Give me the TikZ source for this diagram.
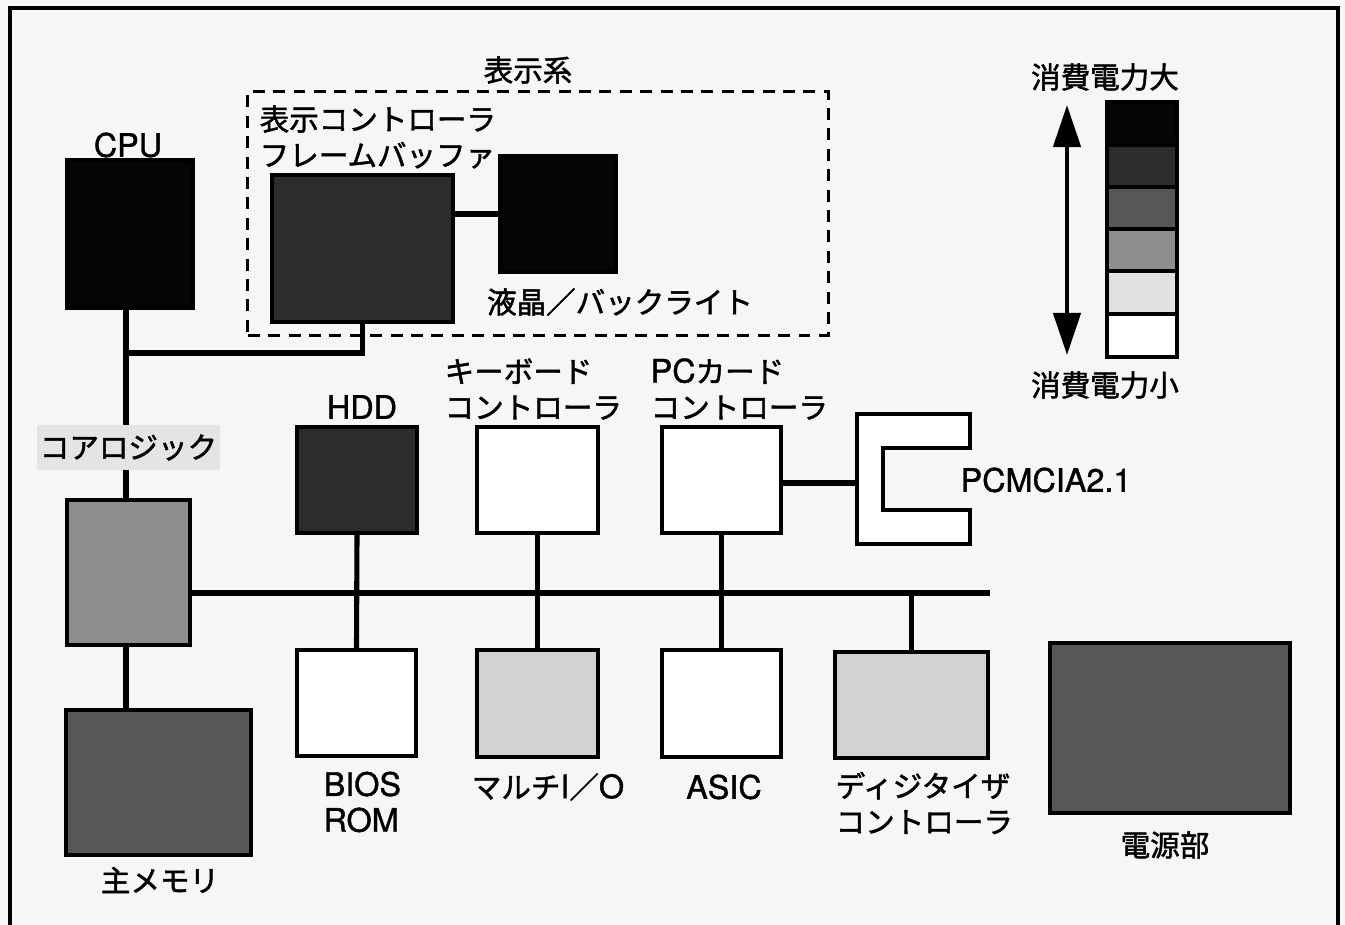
\documentclass[tikz,border=0pt]{standalone}
\usepackage{fontspec}
\setmainfont{Noto Sans CJK JP}[FakeBold=1.6]
\newfontfamily\latfont{TeX Gyre Heros}[FakeBold=1.2]
\newcommand{\lat}[1]{{\latfont\fontsize{9.2}{10.2}\selectfont #1}}
\usetikzlibrary{arrows.meta,calc}
\definecolor{paper}{HTML}{F6F6F6}
\definecolor{cBlack}{HTML}{050505}
\definecolor{cDark}{HTML}{2C2C2C}
\definecolor{cMid}{HTML}{575757}
\definecolor{cGray}{HTML}{8E8E8E}
\definecolor{cLight}{HTML}{D2D2D2}
\definecolor{cPale}{HTML}{E0E0E0}
\definecolor{cLabel}{HTML}{E4E4E4}
\tikzset{
  blk/.style={draw=black, line width=0.9pt, inner sep=0pt, rectangle},
  wire/.style={line width=1.45pt, black},
  txt/.style={inner sep=0pt, font=\fontsize{8.4}{10.2}\selectfont, text=black},
  ltxt/.style={txt, align=left, anchor=west},
}
\newcommand{\pbox}[6]{% name, x1,y1,x2,y2, fill
  \node[blk, fill=#6, minimum width={(#4-#2)*0.01cm}, minimum height={(#5-#3)*0.01cm}] (#1) at ({(#2+#4)/2},{(#3+#5)/2}) {};}
\begin{document}
\begin{tikzpicture}[x=0.01cm,y=-0.01cm]
\useasboundingbox (0,0) rectangle (1345,925);
\fill[paper] (0,0) rectangle (1345,925);
\begin{scope}
\clip (0,0) rectangle (1345,925);
\draw[line width=0.9pt] (10,8) rectangle (1338,960);
\end{scope}

% display system dashed frame
\node[draw, dash pattern=on 3.4pt off 2.4pt, line width=0.85pt, minimum width=5.8cm, minimum height=2.43cm, inner sep=0pt] (disp) at (538,213.5) {};
\node[txt] (dispT) at (528,70) {表示系};

% boxes
\pbox{cpu}{67}{160}{193}{308}{cBlack}
\pbox{fb}{272}{175}{453}{322}{cDark}
\pbox{lcd}{500}{156}{616}{272}{cBlack}
\pbox{core}{67}{500}{190}{645}{cGray}
\pbox{mem}{66}{710}{251}{855}{cMid}
\pbox{hdd}{297}{427}{417}{533}{cDark}
\pbox{bios}{297}{650}{416}{756}{white}
\pbox{kbd}{477}{427}{598}{533}{white}
\pbox{mio}{477}{650}{598}{757}{cLight}
\pbox{pcc}{662}{427}{781}{533}{white}
\pbox{asic}{662}{650}{781}{757}{white}
\pbox{dig}{835}{652}{988}{758}{cLight}
\pbox{psu}{1050}{643}{1290}{813}{cMid}

% PCMCIA slot shape
\coordinate (pcm) at (857,483);
\draw[line width=0.9pt, fill=white] (857,414) -- (970,414) -- (970,448) -- (883,448) -- (883,510) -- (970,510) -- (970,544) -- (857,544) -- cycle;

% coordinates
\coordinate (j1) at (126,353);
\coordinate (busR) at (990,593);

% connectors
\draw[wire] (cpu.south -| j1) -- (core.north -| j1);
\draw[wire] (fb.south) |- (j1);
\draw[wire] (lcd.west) -- (lcd.west -| fb.east);
\draw[wire] (core.south -| j1) -- (mem.north -| j1);
\draw[wire] (core.east |- busR) -- (busR);
\draw[wire] (hdd.south) -- (bios.north);
\draw[wire] (kbd.south) -- (mio.north);
\draw[wire] (pcc.south) -- (asic.north);
\draw[wire] (dig.north) -- (dig.north |- busR);
\draw[wire] (pcc.east |- pcm) -- (pcm);

% core logic label on light background
\node[txt, fill=cLabel, minimum width=1.83cm, minimum height=0.45cm] (coreT) at (128.5,447.5) {コアロジック};

% labels
\node[txt] (cpuT) at (128,145) {\lat{CPU}};
\node[ltxt] (fbT) at (259,137) {表示コントローラ\\フレームバッファ};
\node[txt] (lcdT) at (620,302) {液晶／バックライト};
\node[txt] (hddT) at (362,407) {\lat{HDD}};
\node[ltxt] (kbdT) at (444,389) {キーボード\\コントローラ};
\node[ltxt] (pccT) at (650,389) {\lat{PC}カード\\コントローラ};
\node[txt] (pcmT) at (1046,480) {\lat{PCMCIA2.1}};
\node[ltxt] (biosT) at (323,802) {\lat{BIOS}\\\lat{ROM}};
\node[txt] (mioT) at (548,787) {マルチ\lat{I}／\lat{O}};
\node[txt] (asicT) at (724,787) {\lat{ASIC}};
\node[ltxt] (digT) at (835,803) {ディジタイザ\\コントローラ};
\node[txt] (psuT) at (1165,845) {電源部};
\node[txt] (memT) at (160,880) {主メモリ};

% legend
\node[txt] (hiT) at (1105,77) {消費電力大};
\node[txt] (loT) at (1105,385) {消費電力小};
\pbox{l1}{1107}{102}{1177}{145}{cBlack}
\pbox{l2}{1107}{145}{1177}{187}{cDark}
\pbox{l3}{1107}{187}{1177}{229}{cMid}
\pbox{l4}{1107}{229}{1177}{271}{cGray}
\pbox{l5}{1107}{271}{1177}{314}{cPale}
\pbox{l6}{1107}{314}{1177}{357}{white}
\coordinate (aTop) at (1067,105);
\coordinate (aBot) at (1067,355);
\draw[line width=1.3pt, {Triangle[length=0.42cm,width=0.27cm]}-{Triangle[length=0.42cm,width=0.27cm]}] (aTop) -- (aBot);
\end{tikzpicture}
\end{document}
